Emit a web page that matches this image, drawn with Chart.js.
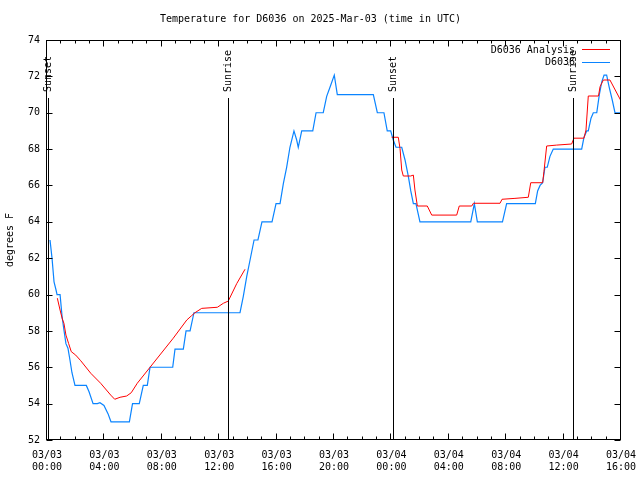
<!DOCTYPE html>
<html>
<head>
<meta charset="utf-8">
<title>Temperature for D6036</title>
<script src="https://cdn.jsdelivr.net/npm/chart.js@4.4.1/dist/chart.umd.min.js"></script>
<style>
    html, body { margin: 0; padding: 0; background: #fff; }
    #wrap { width: 640px; height: 480px; }
</style>
</head>
<body>
<div id="wrap"><canvas id="chart"></canvas></div>
<script>
// Hours since 03/03 00:00 UTC
const obsHours = [0.21, 0.35, 0.42, 0.49, 0.63, 0.70, 0.91, 1.05, 1.18, 1.32, 1.46, 1.60, 1.74, 1.95,
    2.74, 2.93, 3.21, 3.51, 3.69, 3.97, 4.25, 4.46, 5.74, 5.96, 6.43, 6.71, 6.99, 7.18, 8.76, 8.92,
    9.50, 9.69, 9.97, 10.24, 13.45, 13.68, 13.92, 14.15, 14.43, 14.70, 14.98, 15.68, 15.96, 16.24,
    16.47, 16.70, 16.93, 17.21, 17.40, 17.51, 17.75, 18.52, 18.75, 19.25, 19.49, 19.72, 20.02, 20.23,
    22.74, 23.02, 23.48, 23.71, 23.95, 24.13, 24.32, 24.72, 24.95, 25.18, 25.35, 25.53, 25.71, 25.99,
    29.53, 29.78, 29.99, 31.74, 32.03, 34.03, 34.19, 34.36, 34.54, 34.70, 34.86, 35.05, 35.28, 37.26,
    37.42, 37.61, 37.72, 37.91, 38.07, 38.31, 38.49, 38.66, 38.82, 39.00, 39.18, 39.39, 39.58, 40.00];
const obsTemps = [63.0, 62.0, 61.35, 60.7, 60.25, 60.0, 60.0, 58.8, 58.05, 57.3, 57.05, 56.4, 55.7, 55.0,
    55.0, 54.65, 54.0, 54.0, 54.05, 53.9, 53.45, 53.0, 53.0, 54.0, 54.0, 55.0, 55.0, 56.0, 56.0, 57.0,
    57.0, 58.0, 58.0, 59.0, 59.0, 59.9, 61.0, 61.9, 63.0, 63.0, 64.0, 64.0, 65.0, 65.0,
    66.1, 67.0, 68.1, 69.0, 68.5, 68.1, 69.0, 69.0, 70.0, 70.0, 70.9, 71.4, 72.07, 71.0,
    71.0, 70.0, 70.0, 69.0, 69.0, 68.5, 68.1, 68.1, 67.4, 66.5, 65.7, 65.0, 65.0, 64.0,
    64.0, 65.0, 64.0, 64.0, 65.0, 65.0, 65.7, 66.0, 66.15, 67.0, 67.0, 67.6, 68.0, 68.0,
    68.65, 69.0, 69.0, 69.7, 70.0, 70.0, 71.0, 71.7, 72.07, 72.07, 71.4, 70.7, 70.0, 70.0];

// Analysis series (null = gap)
const anaHours = [0.72, 0.91, 1.07, 1.18, 1.32, 1.51, 1.69, 2.00, 2.35, 3.05, 3.74, 4.44, 4.72, 5.09,
    5.55, 5.87, 6.29, 7.18, 8.80, 9.74, 10.08, 10.31, 10.78, 11.87, 12.29, 12.63, 13.22, 13.80,
    19.0,
    24.02, 24.48, 24.60, 24.72, 24.83, 25.34, 25.53, 25.64, 25.81, 26.50, 26.81, 28.55, 28.73, 29.60,
    29.71, 31.57, 31.71, 32.61, 33.54, 33.71, 34.54, 34.63, 34.82, 35.52, 36.56, 36.72, 37.42, 37.56,
    37.72, 38.43, 38.54, 38.77, 39.23, 40.00];
const anaTemps = [59.8, 59.15, 58.65, 58.42, 57.77, 57.3, 56.86, 56.67, 56.36, 55.67, 55.12, 54.47, 54.24, 54.35,
    54.42, 54.6, 55.12, 56.0, 57.6, 58.6, 58.84, 59.0, 59.24, 59.3, 59.52, 59.64, 60.6, 61.39,
    null,
    68.65, 68.65, 68.04, 66.85, 66.52, 66.52, 66.57, 65.75, 64.87, 64.87, 64.37, 64.37, 64.87, 64.87,
    65.02, 65.02, 65.24, 65.29, 65.35, 66.15, 66.15, 66.76, 68.17, 68.22, 68.28, 68.6, 68.6, 69.05,
    70.92, 70.92, 71.43, 71.8, 71.8, 70.65];

const sunNames = ['Sunset', 'Sunrise', 'Sunset', 'Sunrise'];
const sunHours = [0.07, 12.61, 24.11, 36.66];

const tickDates = ['03/03', '03/03', '03/03', '03/03', '03/03', '03/03', '03/04', '03/04', '03/04', '03/04', '03/04'];
const tickTimes = ['00:00', '04:00', '08:00', '12:00', '16:00', '20:00', '00:00', '04:00', '08:00', '12:00', '16:00'];

const MONO = 'DejaVu Sans Mono';
const FONT = { family: MONO, size: 10, weight: 'normal' };

function toPoints(xs, ys) {
    return xs.map((x, i) => ({ x: x, y: ys[i] }));
}

// frame, inward ticks, sun markers and legend (gnuplot look)
const gnuplotDecor = {
    id: 'gnuplotDecor',
    afterDatasetsDraw(chart) {
        const ctx = chart.ctx;
        const a = chart.chartArea;
        const xs = chart.scales.x, ys = chart.scales.y;
        ctx.save();
        ctx.strokeStyle = '#000';
        ctx.lineWidth = 1;

        // sunrise / sunset lines
        ctx.font = '10px "' + MONO + '"';
        ctx.fillStyle = '#000';
        sunHours.forEach((h, i) => {
            const px = Math.round(xs.getPixelForValue(h)) + 0.5;
            ctx.beginPath();
            ctx.moveTo(px, 98);
            ctx.lineTo(px, a.bottom);
            ctx.stroke();
            ctx.save();
            ctx.translate(px, 92);
            ctx.rotate(-Math.PI / 2);
            ctx.textAlign = 'left';
            ctx.textBaseline = 'middle';
            ctx.fillText(sunNames[i], 0, 0);
            ctx.restore();
        });

        // frame
        const L = Math.round(a.left) - 0.5, R = Math.round(a.right) - 0.5;
        const T = Math.round(a.top) + 0.5, B = Math.round(a.bottom) - 0.5;
        ctx.strokeRect(L, T, R - L, B - T);

        // x ticks (major every 4h, minor every 1h), top and bottom
        ctx.beginPath();
        for (let h = xs.min; h <= xs.max; h++) {
            const px = Math.round(xs.getPixelForValue(h)) - 0.5;
            const len = h % 4 === 0 ? 6 : 3;
            ctx.moveTo(px, B); ctx.lineTo(px, B - len);
            ctx.moveTo(px, T); ctx.lineTo(px, T + len);
        }
        // y ticks left and right
        for (let v = ys.min; v <= ys.max; v += 2) {
            const py = Math.round(ys.getPixelForValue(v)) + 0.5;
            ctx.moveTo(L, py); ctx.lineTo(L + 6, py);
            ctx.moveTo(R, py); ctx.lineTo(R - 6, py);
        }
        ctx.stroke();

        // legend, top right inside the plot
        ctx.textAlign = 'right';
        ctx.textBaseline = 'middle';
        chart.data.datasets.forEach((ds, i) => {
            const y = 50 + i * 12.5;
            ctx.fillStyle = '#000';
            ctx.fillText(ds.label, 575, y);
            ctx.strokeStyle = ds.borderColor;
            ctx.beginPath();
            ctx.moveTo(582, Math.round(y) - 0.5);
            ctx.lineTo(610, Math.round(y) - 0.5);
            ctx.stroke();
        });
        ctx.restore();
    }
};

new Chart(document.getElementById('chart'), {
    type: 'line',
    data: {
        datasets: [
            {
                label: 'D6036 Analysis',
                data: toPoints(anaHours, anaTemps),
                borderColor: '#ff0000',
                borderWidth: 1,
                pointRadius: 0,
                spanGaps: false,
                tension: 0
            },
            {
                label: 'D6036',
                data: toPoints(obsHours, obsTemps),
                borderColor: '#0a84ff',
                borderWidth: 1.2,
                pointRadius: 0,
                tension: 0
            }
        ]
    },
    options: {
        responsive: true,
        maintainAspectRatio: false,
        animation: false,
        layout: { padding: { left: 0, right: 19, top: 0, bottom: 0 } },
        plugins: {
            legend: { display: false },
            tooltip: { enabled: false },
            title: {
                display: true,
                text: 'Temperature for D6036 on 2025-Mar-03 (time in UTC)',
                color: '#000',
                font: FONT,
                padding: { top: 13, bottom: 15 }
            }
        },
        scales: {
            x: {
                type: 'linear',
                min: 0,
                max: 40,
                grid: { display: false, drawTicks: false },
                border: { display: false },
                ticks: {
                    stepSize: 4,
                    autoSkip: false,
                    maxRotation: 0,
                    padding: 9,
                    color: '#000',
                    font: FONT,
                    callback: v => [tickDates[v / 4], tickTimes[v / 4]]
                },
                afterFit: s => {
                    s.height = 40;
                    s.paddingLeft = 0;
                    s.paddingRight = 0;
                }
            },
            y: {
                min: 52,
                max: 74,
                grid: { display: false, drawTicks: false },
                border: { display: false },
                ticks: { stepSize: 2, padding: 7, color: '#000', font: FONT },
                title: {
                    display: true,
                    text: 'degrees F',
                    color: '#000',
                    font: FONT,
                    padding: { top: 4, bottom: 0 }
                },
                afterFit: s => { s.width = 47; }
            }
        }
    },
    plugins: [gnuplotDecor]
});
</script>
</body>
</html>
